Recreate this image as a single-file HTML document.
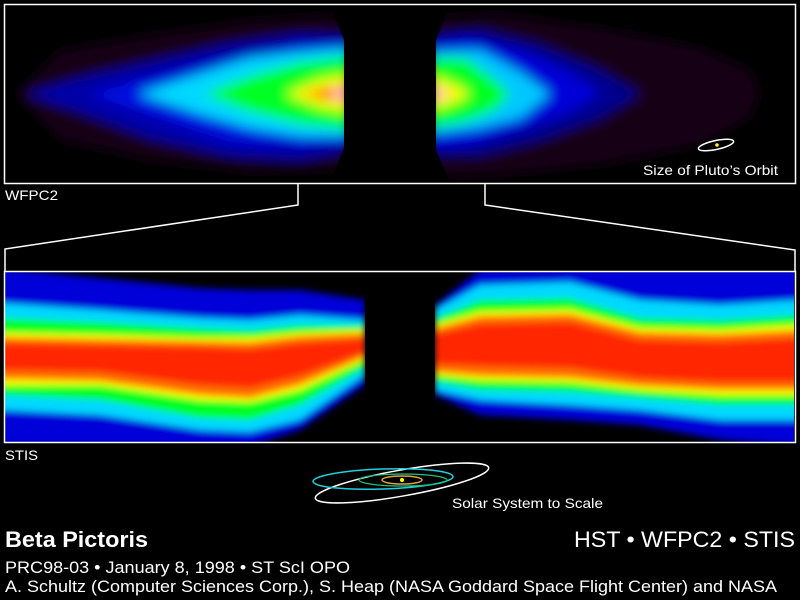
<!DOCTYPE html>
<html><head><meta charset="utf-8"><style>
html,body{margin:0;padding:0;background:#000;}
svg{display:block}
text{font-family:"Liberation Sans",Arial,sans-serif;fill:#fff}
</style></head><body>
<svg width="800" height="600" viewBox="0 0 800 600" xmlns="http://www.w3.org/2000/svg">
<defs>
<filter id="b1" x="-20%" y="-20%" width="140%" height="140%"><feGaussianBlur stdDeviation="6"/></filter>
<filter id="b2" x="-20%" y="-20%" width="140%" height="140%"><feGaussianBlur stdDeviation="3.5"/></filter>
<clipPath id="tl"><polygon points="5,5 330,5 344,40 344,148 330,183 5,183"/></clipPath>
<clipPath id="tr"><polygon points="450,5 795,5 795,183 450,183 436,150 436,40"/></clipPath>
<clipPath id="bl"><rect x="5" y="272" width="360" height="170"/></clipPath>
<clipPath id="br"><rect x="435" y="272" width="359" height="170"/></clipPath>
</defs>
<rect width="800" height="600" fill="#000"/>

<!-- top left lobe -->
<g clip-path="url(#tl)"><g filter="url(#b1)">
<polygon fill="#160018" points="15,94 60,50 150,35 250,20 330,15 350,20 350,170 250,172 150,160 60,140"/>
<polygon fill="#0000a8" points="25,94 80,78 150,62 230,44 300,34 350,36 350,150 300,160 230,156 150,138 80,112"/>
<polygon fill="#0010e0" points="90,94 150,78 230,58 300,45 350,42 350,142 300,145 230,142 150,115"/>
<polygon fill="#00d8ff" points="138,94 200,74 250,58 300,52 350,48 350,136 300,136 250,128 200,114"/>
<polygon fill="#00ff20" points="204,94 250,76 300,62 350,56 350,130 300,124 250,112"/>
<polygon fill="#ffff00" points="286,94 320,80 350,75 350,112 320,107"/>
<polygon fill="#ff3000" points="300,94 350,84 350,103"/>
<ellipse cx="340" cy="94" rx="8" ry="3" fill="#fff"/>
</g></g>

<!-- top right lobe -->
<g clip-path="url(#tr)"><g filter="url(#b1)">
<polygon fill="#140016" points="430,18 500,14 600,28 700,48 750,70 760,94 750,118 700,145 600,165 500,175 430,178"/>
<polygon fill="#000090" points="430,35 480,30 540,45 600,70 640,94 600,118 540,140 480,155 430,155"/>
<polygon fill="#0000d8" points="430,42 470,38 520,50 570,72 600,94 570,112 520,130 470,145 430,148"/>
<polygon fill="#00c8ff" points="430,52 480,50 520,72 550,94 520,118 480,128 430,134"/>
<polygon fill="#00ff20" points="430,58 465,58 495,80 510,94 495,110 465,122 430,128"/>
<polygon fill="#ffff00" points="430,76 455,85 470,94 455,102 430,110"/>
<polygon fill="#ff3000" points="430,85 452,94 430,102"/>
<ellipse cx="438" cy="94" rx="6" ry="3" fill="#fff"/>
</g></g>

<rect x="4.5" y="4.5" width="791" height="179" fill="none" stroke="#fff" stroke-width="1.5"/>
<ellipse cx="716" cy="145" rx="18" ry="4.5" transform="rotate(-12 716 145)" fill="none" stroke="#fff" stroke-width="1.5"/>
<circle cx="717" cy="145" r="1.8" fill="#ff0"/>
<text x="643" y="175" font-size="14" textLength="135" lengthAdjust="spacingAndGlyphs">Size of Pluto’s Orbit</text>
<text x="5" y="200" font-size="14" textLength="53" lengthAdjust="spacingAndGlyphs">WFPC2</text>

<polyline points="298,183 298,205 5,249 5,271" fill="none" stroke="#fff" stroke-width="1.5"/>
<polyline points="485,183 485,205 795,250 795,271" fill="none" stroke="#fff" stroke-width="1.5"/>

<!-- bottom left -->
<g clip-path="url(#bl)"><g filter="url(#b2)">
<polygon fill="#0000d8" points="0,268 100,278 200,288 250,290 300,290 365,300 365,385 300,430 250,446 200,446 100,446 0,446"/>
<polygon fill="#00d8ff" points="0,303 100,310 200,318 250,320 300,315 365,320 365,375 300,420 250,432 200,430 100,415 0,410"/>
<polygon fill="#00ff20" points="0,318 100,322 200,328 250,330 300,325 365,325 365,368 300,405 250,420 200,418 100,400 0,395"/>
<polygon fill="#ffff00" points="0,333 100,335 200,338 250,338 300,333 365,330 365,360 300,390 250,402 200,400 100,385 0,385"/>
<polygon fill="#ff7000" points="0,337 100,339 200,341 250,342 300,336 365,333 365,357 300,385 250,398 200,395 100,381 0,379"/>
<polygon fill="#ff2800" points="0,343 100,345 200,347 250,349 300,343 365,339 365,352 300,376 250,388 200,385 100,372 0,370"/>
</g></g>

<!-- bottom right -->
<g clip-path="url(#br)"><g filter="url(#b2)">
<polygon fill="#0000d8" points="435,305 480,270 570,268 640,268 720,268 800,268 800,446 720,440 640,425 570,420 480,415 435,395"/>
<polygon fill="#00d8ff" points="435,310 480,285 570,282 640,300 720,305 800,300 800,420 720,420 640,410 570,405 480,400 435,390"/>
<polygon fill="#00ff20" points="435,318 480,300 570,298 640,318 720,320 800,315 800,405 720,405 640,398 570,392 480,390 435,382"/>
<polygon fill="#ffff00" points="435,325 480,312 570,310 640,328 720,330 800,325 800,395 720,395 640,390 570,382 480,380 435,375"/>
<polygon fill="#ff7000" points="435,328 480,316 570,314 640,332 720,334 800,330 800,390 720,390 640,386 570,378 480,376 435,372"/>
<polygon fill="#ff2800" points="435,334 480,324 570,322 640,340 720,342 800,338 800,382 720,382 640,378 570,368 480,366 435,364"/>
</g></g>

<rect x="4.5" y="271.5" width="791" height="171" fill="none" stroke="#fff" stroke-width="1.5"/>
<text x="5" y="460" font-size="14" textLength="33" lengthAdjust="spacingAndGlyphs">STIS</text>

<!-- solar system -->
<ellipse cx="402" cy="483" rx="88" ry="13" transform="rotate(-10 402 483)" fill="none" stroke="#fff" stroke-width="1.5"/>
<ellipse cx="383" cy="479" rx="70" ry="10" transform="rotate(-2 383 479)" fill="none" stroke="#20d0e0" stroke-width="1.5"/>
<ellipse cx="403" cy="480" rx="44" ry="6" fill="none" stroke="#20c080" stroke-width="1.2"/>
<ellipse cx="402" cy="480" rx="20" ry="4" fill="none" stroke="#e0a040" stroke-width="1.5"/>
<circle cx="402" cy="480" r="2" fill="#ff0"/>
<text x="452" y="508" font-size="14" textLength="151" lengthAdjust="spacingAndGlyphs">Solar System to Scale</text>

<text x="5" y="547" font-size="22" font-weight="bold" textLength="143" lengthAdjust="spacingAndGlyphs">Beta Pictoris</text>
<text x="574" y="547" font-size="22" textLength="221" lengthAdjust="spacingAndGlyphs">HST • WFPC2 • STIS</text>
<text x="5" y="573" font-size="17" textLength="345" lengthAdjust="spacingAndGlyphs">PRC98-03 • January 8, 1998 • ST ScI OPO</text>
<text x="5" y="592" font-size="17" textLength="772" lengthAdjust="spacingAndGlyphs">A. Schultz (Computer Sciences Corp.), S. Heap (NASA Goddard Space Flight Center) and NASA</text>
</svg>
</body></html>
